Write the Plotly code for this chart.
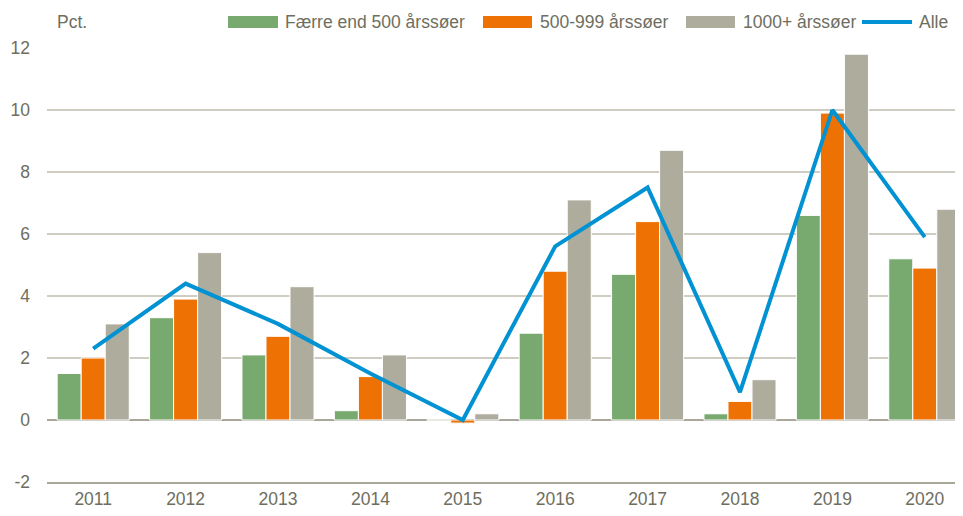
import plotly.graph_objects as go

years = ["2011", "2012", "2013", "2014", "2015", "2016", "2017", "2018", "2019", "2020"]
faerre_500 = [1.5, 3.3, 2.1, 0.3, 0.0, 2.8, 4.7, 0.2, 6.6, 5.2]
s500_999 = [2.0, 3.9, 2.7, 1.4, -0.1, 4.8, 6.4, 0.6, 9.9, 4.9]
s1000_plus = [3.1, 5.4, 4.3, 2.1, 0.2, 7.1, 8.7, 1.3, 11.8, 6.8]
alle = [2.3, 4.4, 3.1, 1.5, 0.0, 5.6, 7.5, 0.9, 10.0, 5.9]
y_ticks = [-2, 0, 2, 4, 6, 8, 10, 12]
y_ticklabels = ["-2", "0", "2", "4", "6", "8", "10", "12"]

names = ["Færre end 500 årssøer", "500-999 årssøer", "1000+ årssøer", "Alle"]
colors = ["#78A96F", "#EE7203", "#AEAC9C", "#0092D2"]

FONT = "Liberation Sans, Arial, sans-serif"
TXT = "#6E6E60"

# page body has an 8px margin; figure is placed at (8, 8) in the window
OFF = 8
W, H = 963 - OFF, 516 - OFF
L, R, T, B = 47 - OFF, 0, 48 - OFF, 34
pw, ph = W - L - R, H - T - B

def px(x):
    return (x - OFF - L) / pw

def py(y):
    return (H - B - (y - OFF)) / ph

fig = go.Figure()
for vals, nm, c in zip([faerre_500, s500_999, s1000_plus], names[:3], colors[:3]):
    fig.add_trace(go.Bar(x=years, y=vals, name=nm, marker=dict(color=c, line=dict(color="white", width=1)),
                         showlegend=False))
fig.add_trace(go.Scatter(x=years, y=alle, name=names[3], mode="lines",
                         line=dict(color=colors[3], width=4), showlegend=False))

# manual legend (window pixel positions)
leg = [(228, 278, 283), (483, 532, 538), (686, 735, 741), (862, 912, 917)]
ly = 22
shapes = []
annotations = []
for i, (x0, x1, tx) in enumerate(leg):
    if i < 3:
        shapes.append(dict(type="rect", xref="paper", yref="paper", x0=px(x0), x1=px(x1),
                           y0=py(ly + 6), y1=py(ly - 6), fillcolor=colors[i], line=dict(width=0)))
    else:
        shapes.append(dict(type="line", xref="paper", yref="paper", x0=px(x0), x1=px(x1),
                           y0=py(ly), y1=py(ly), line=dict(color=colors[i], width=4)))
    annotations.append(dict(text=names[i], xref="paper", yref="paper", x=px(tx), y=py(ly),
                            xanchor="left", yanchor="middle", showarrow=False,
                            font=dict(family=FONT, size=17.5, color=TXT)))
annotations.append(dict(text="Pct.", xref="paper", yref="paper", x=px(55), y=py(ly),
                        xanchor="left", yanchor="middle", showarrow=False,
                        font=dict(family=FONT, size=17.5, color=TXT)))

fig.update_layout(
    width=W, height=H,
    margin=dict(l=L, r=R, t=T, b=B),
    paper_bgcolor="white", plot_bgcolor="white",
    barmode="group", bargap=0.22, bargroupgap=0,
    font=dict(family=FONT, size=17.5, color=TXT),
    shapes=shapes, annotations=annotations,
    xaxis=dict(type="category", range=[-0.5, 9.5 - OFF / 92.4], showgrid=False, ticks="",
               showline=True, linecolor="#A9A79A", linewidth=1.5,
               tickfont=dict(family=FONT, size=17.5, color=TXT)),
    yaxis=dict(range=[-2, 12], tickmode="array", tickvals=y_ticks, ticktext=y_ticklabels,
               showgrid=True, gridcolor="#CFCDC2", gridwidth=1.5,
               zeroline=True, zerolinecolor="#A9A79A", zerolinewidth=1.5, ticks="",
               ticklabelstandoff=16,
               tickfont=dict(family=FONT, size=17.5, color=TXT)),
)
fig.write_html("out.html")
